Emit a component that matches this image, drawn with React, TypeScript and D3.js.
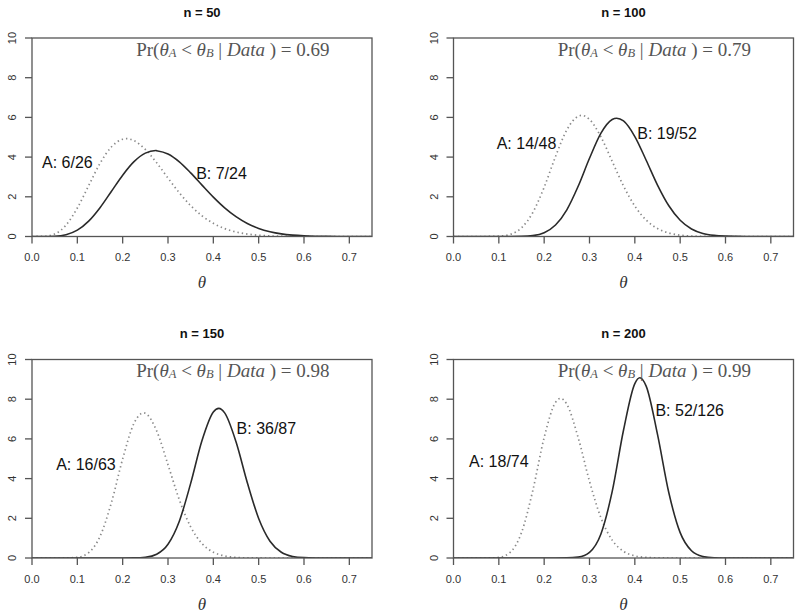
import React from 'react';
import * as d3 from 'd3';

// theta grid the densities were read at
const theta = [
  0, 0.025, 0.05, 0.075, 0.1, 0.125, 0.15, 0.175, 0.2, 0.225, 0.25, 0.275, 0.3, 0.325, 0.35, 0.375,
  0.4, 0.425, 0.45, 0.475, 0.5, 0.525, 0.55, 0.575, 0.6, 0.625, 0.65, 0.675, 0.7, 0.725, 0.75,
];

const sampleSizes = [50, 100, 150, 200];
const labelsA = ['A: 6/26', 'A: 14/48', 'A: 16/63', 'A: 18/74'];
const labelsB = ['B: 7/24', 'B: 19/52', 'B: 36/87', 'B: 52/126'];
const probs = ['0.69', '0.79', '0.98', '0.99'];

const densA50 = [0, 0.006, 0.125, 0.573, 1.436, 2.565, 3.68, 4.509, 4.9, 4.83, 4.387, 3.712, 2.944, 2.2, 1.555, 1.043, 0.663, 0.4, 0.229, 0.124, 0.063, 0.031, 0.014, 0.006, 0.002, 0.001, 0, 0, 0, 0, 0];
const densB50 = [0, 0, 0.012, 0.088, 0.318, 0.773, 1.451, 2.27, 3.091, 3.771, 4.199, 4.323, 4.158, 3.762, 3.205, 2.588, 1.983, 1.443, 0.999, 0.656, 0.409, 0.242, 0.134, 0.07, 0.034, 0.016, 0.007, 0.003, 0.001, 0, 0];
const densA100 = [0, 0, 0, 0.001, 0.015, 0.106, 0.436, 1.208, 2.483, 4.028, 5.37, 6.056, 5.896, 5.026, 3.791, 2.548, 1.533, 0.828, 0.401, 0.175, 0.068, 0.024, 0.007, 0.002, 0, 0, 0, 0, 0, 0, 0];
const densB100 = [0, 0, 0, 0, 0, 0, 0.008, 0.046, 0.191, 0.577, 1.346, 2.529, 3.94, 5.198, 5.897, 5.82, 5.036, 3.842, 2.592, 1.548, 0.818, 0.381, 0.156, 0.056, 0.017, 0.005, 0.001, 0, 0, 0, 0];
const densA150 = [0, 0, 0, 0.002, 0.034, 0.267, 1.085, 2.775, 4.993, 6.783, 7.29, 6.402, 4.7, 2.931, 1.57, 0.727, 0.293, 0.103, 0.031, 0.008, 0.002, 0, 0, 0, 0, 0, 0, 0, 0, 0, 0];
const densB150 = [0, 0, 0, 0, 0, 0, 0, 0, 0, 0.005, 0.037, 0.191, 0.694, 1.854, 3.758, 5.917, 7.356, 7.311, 5.855, 3.795, 1.993, 0.846, 0.289, 0.079, 0.017, 0.003, 0, 0, 0, 0, 0];
const densA200 = [0, 0, 0, 0.001, 0.03, 0.284, 1.28, 3.405, 6.068, 7.839, 7.743, 6.065, 3.864, 2.038, 0.901, 0.337, 0.107, 0.029, 0.007, 0.001, 0, 0, 0, 0, 0, 0, 0, 0, 0, 0, 0];
const densB200 = [0, 0, 0, 0, 0, 0, 0, 0, 0, 0, 0.004, 0.044, 0.288, 1.2, 3.342, 6.436, 8.789, 8.658, 6.225, 3.287, 1.277, 0.364, 0.075, 0.011, 0.001, 0, 0, 0, 0, 0, 0];

// peaks of each curve
const peakThetaA = [0.208, 0.283, 0.246, 0.236];
const peakDensA = [4.93, 6.1, 7.31, 8.04];
const peakThetaB = [0.273, 0.36, 0.412, 0.411];
const peakDensB = [4.33, 5.96, 7.54, 9.08];

// where the text labels sit, in data units
const labelPosA = [[0.078, 3.72], [0.161, 4.71], [0.119, 4.69], [0.1, 4.84]];
const labelPosB = [[0.418, 3.18], [0.471, 5.21], [0.517, 6.5], [0.521, 7.41]];

const xTicks = [0, 0.1, 0.2, 0.3, 0.4, 0.5, 0.6, 0.7];
const yTicks = [0, 2, 4, 6, 8, 10];

const densA = [densA50, densA100, densA150, densA200];
const densB = [densB50, densB100, densB150, densB200];

const panels = [
  { x0: 32, x1: 372, y0: 38, y1: 236.5 },
  { x0: 453.5, x1: 793.5, y0: 38, y1: 236.5 },
  { x0: 32, x1: 372, y0: 359.5, y1: 558 },
  { x0: 453.5, x1: 793.5, y0: 359.5, y1: 558 },
];

const sans = 'Liberation Sans, Arial, Helvetica, sans-serif';
const serif = 'Liberation Serif, Times New Roman, serif';
const axisCol = '#555';

function withPeak(dens: number[], pt: number, pd: number) {
  const pts = theta.map((t, i) => [t, dens[i]] as [number, number]);
  pts.push([pt, pd]);
  pts.sort((a, b) => a[0] - b[0]);
  return pts;
}

const Panel = ({ i }: { i: number }) => {
  const p = panels[i];
  const x = d3.scaleLinear().domain([0, 0.75]).range([p.x0, p.x1]);
  const y = d3.scaleLinear().domain([0, 10]).range([p.y1, p.y0]);
  const line = d3
    .line<[number, number]>()
    .x(d => x(d[0]))
    .y(d => y(d[1]))
    .curve(d3.curveMonotoneX);

  const a = withPeak(densA[i], peakThetaA[i], peakDensA[i]);
  const b = withPeak(densB[i], peakThetaB[i], peakDensB[i]);
  const cx = (p.x0 + p.x1) / 2;

  return (
    <g>
      <text x={cx} y={p.y0 - 26} textAnchor="middle" dominantBaseline="central"
        fontFamily={sans} fontWeight="bold" fontSize={13} fill="#111">
        n = {sampleSizes[i]}
      </text>

      <defs>
        <clipPath id={`clip${i}`}>
          <rect x={p.x0} y={p.y0} width={p.x1 - p.x0} height={p.y1 - p.y0} />
        </clipPath>
      </defs>
      <g clipPath={`url(#clip${i})`}>
        <path d={line(a) || ''} fill="none" stroke="#8a8a8a" strokeWidth={1.7}
          strokeDasharray="1.4 3" />
        <path d={line(b) || ''} fill="none" stroke="#2a2a2a" strokeWidth={1.6} />
      </g>

      <rect x={p.x0} y={p.y0} width={p.x1 - p.x0} height={p.y1 - p.y0}
        fill="none" stroke={axisCol} strokeWidth={1.3} />

      {xTicks.map(t => (
        <g key={'x' + t}>
          <line x1={x(t)} x2={x(t)} y1={p.y1} y2={p.y1 + 7} stroke={axisCol} strokeWidth={1.3} />
          <text x={x(t)} y={p.y1 + 20.5} textAnchor="middle" dominantBaseline="central"
            fontFamily={sans} fontSize={11} fill="#333">
            {t.toFixed(1)}
          </text>
        </g>
      ))}
      {yTicks.map(t => (
        <g key={'y' + t}>
          <line x1={p.x0 - 7} x2={p.x0} y1={y(t)} y2={y(t)} stroke={axisCol} strokeWidth={1.3} />
          <text transform={`translate(${p.x0 - 20},${y(t)}) rotate(-90)`} textAnchor="middle"
            dominantBaseline="central" fontFamily={sans} fontSize={11} fill="#333">
            {t}
          </text>
        </g>
      ))}

      <text x={cx} y={p.y1 + 46} textAnchor="middle" dominantBaseline="central"
        fontFamily={serif} fontStyle="italic" fontSize={17} fill="#333">
        θ
      </text>

      <text x={x(0.443)} y={y(9.45)} textAnchor="middle" dominantBaseline="central"
        fontFamily={serif} fontSize={19} fill="#555">
        <tspan>Pr(</tspan>
        <tspan fontStyle="italic">θ</tspan>
        <tspan fontStyle="italic" fontSize={12.5} dy={4}>A</tspan>
        <tspan dy={-4}> &lt; </tspan>
        <tspan fontStyle="italic">θ</tspan>
        <tspan fontStyle="italic" fontSize={12.5} dy={4}>B</tspan>
        <tspan dy={-4}> | </tspan>
        <tspan fontStyle="italic">Data</tspan>
        <tspan> ) = {probs[i]}</tspan>
      </text>

      <text x={x(labelPosA[i][0])} y={y(labelPosA[i][1])} textAnchor="middle"
        dominantBaseline="central" fontFamily={sans} fontSize={16} fill="#111">
        {labelsA[i]}
      </text>
      <text x={x(labelPosB[i][0])} y={y(labelPosB[i][1])} textAnchor="middle"
        dominantBaseline="central" fontFamily={sans} fontSize={16} fill="#111">
        {labelsB[i]}
      </text>
    </g>
  );
};

export default function App() {
  return (
    <svg width={800} height={615} style={{ position: 'absolute', left: 0, top: 0, background: '#fff' }}>
      {panels.map((_, i) => (
        <Panel key={i} i={i} />
      ))}
    </svg>
  );
}
